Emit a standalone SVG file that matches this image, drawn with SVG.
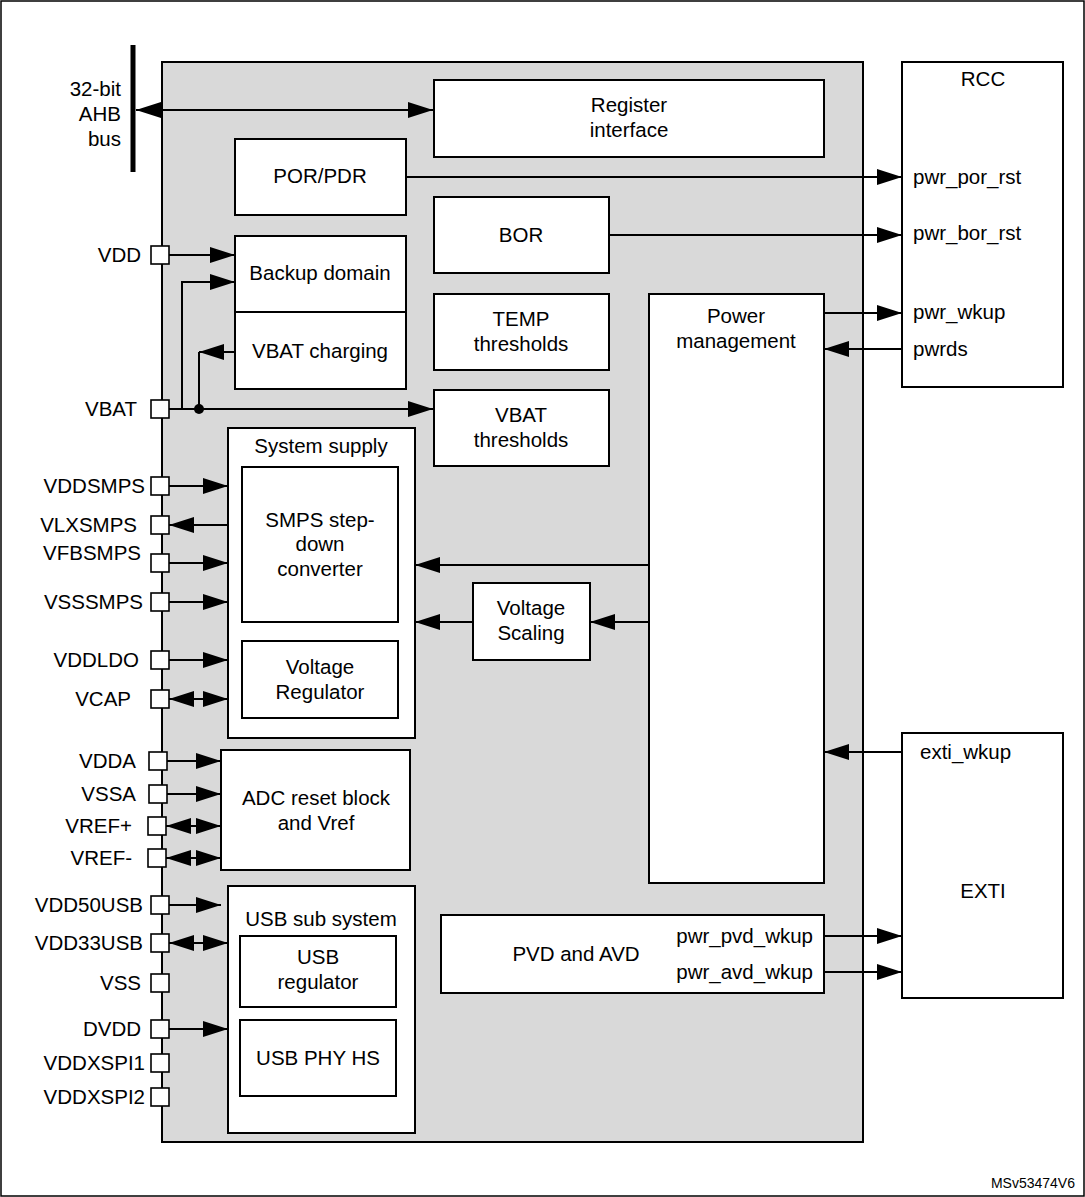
<svg xmlns="http://www.w3.org/2000/svg" width="1085" height="1197" viewBox="0 0 1085 1197">
<style>
.b{fill:#fff;stroke:#000;stroke-width:2}
.l{stroke:#000;stroke-width:2;fill:none}
.la{stroke:#000;stroke-width:2;fill:none;marker-end:url(#a)}
.lb{stroke:#000;stroke-width:2;fill:none;marker-end:url(#a);marker-start:url(#s)}
.p{fill:#fff;stroke:#000;stroke-width:1.6}
text{font-family:"Liberation Sans",Arial,sans-serif;font-size:20.5px;fill:#000}
.c{text-anchor:middle}
.r{text-anchor:end}
</style>
<defs>
<marker id="a" markerUnits="userSpaceOnUse" markerWidth="26" markerHeight="16" refX="25" refY="8" orient="auto"><path d="M0,0L25,8L0,16z"/></marker>
<marker id="s" markerUnits="userSpaceOnUse" markerWidth="26" markerHeight="16" refX="0" refY="8" orient="auto"><path d="M25,0L0,8L25,16z"/></marker>
</defs>
<rect x="1" y="1" width="1083" height="1195" fill="#fff" stroke="#000" stroke-width="1.5"/>
<rect x="162" y="62" width="701" height="1080" fill="#d9d9d9" stroke="#000" stroke-width="2"/>
<line x1="133" y1="45" x2="133" y2="172" stroke="#000" stroke-width="5"/>
<text class="r" x="121" y="96">32-bit</text><text class="r" x="121" y="121">AHB</text><text class="r" x="121" y="146">bus</text>
<g id="connectors">
<line class="lb" x1="136" y1="110" x2="433" y2="110"/>
<line class="la" x1="406" y1="177" x2="902" y2="177"/>
<line class="la" x1="609" y1="235" x2="902" y2="235"/>
<line class="la" x1="824" y1="313" x2="902" y2="313"/>
<line class="la" x1="902" y1="349" x2="824" y2="349"/>
<line class="la" x1="902" y1="752" x2="824" y2="752"/>
<line class="la" x1="824" y1="936" x2="902" y2="936"/>
<line class="la" x1="824" y1="972" x2="902" y2="972"/>
<line class="la" x1="169" y1="255" x2="235" y2="255"/>
<polyline class="la" points="182,409 182,282 235,282"/>
<polyline class="la" points="235,352 199,352"/>
<line class="l" x1="199" y1="352" x2="199" y2="409"/>
<circle cx="199" cy="409" r="5"/>
<line class="la" x1="169" y1="409" x2="433" y2="409"/>
<line class="la" x1="169" y1="486" x2="228" y2="486"/>
<line class="la" x1="228" y1="525" x2="169" y2="525"/>
<line class="la" x1="169" y1="563" x2="228" y2="563"/>
<line class="la" x1="169" y1="602" x2="228" y2="602"/>
<line class="la" x1="169" y1="660" x2="228" y2="660"/>
<line class="lb" x1="169" y1="699" x2="228" y2="699"/>
<line class="la" x1="167" y1="761" x2="221" y2="761"/>
<line class="la" x1="167" y1="794" x2="221" y2="794"/>
<line class="lb" x1="166" y1="826" x2="221" y2="826"/>
<line class="lb" x1="166" y1="858" x2="221" y2="858"/>
<line class="la" x1="169" y1="905" x2="221" y2="905"/>
<line class="lb" x1="169" y1="943" x2="228" y2="943"/>
<line class="la" x1="169" y1="1029" x2="228" y2="1029"/>
<line class="la" x1="649" y1="565" x2="415" y2="565"/>
<line class="la" x1="649" y1="622" x2="590" y2="622"/>
<line class="la" x1="473" y1="622" x2="415" y2="622"/>
</g>
<g id="reg"><rect class="b" x="434" y="80" width="390" height="77"/><text class="c" x="629" y="112">Register</text><text class="c" x="629" y="137">interface</text></g>
<g id="por"><rect class="b" x="235" y="139" width="171" height="76"/><text class="c" x="320" y="183">POR/PDR</text></g>
<g id="bor"><rect class="b" x="434" y="197" width="175" height="76"/><text class="c" x="521" y="242">BOR</text></g>
<g id="backup"><rect class="b" x="235" y="236" width="171" height="76"/><text class="c" x="320" y="280">Backup domain</text></g>
<g id="vbatchg"><rect class="b" x="235" y="312" width="171" height="77"/><text class="c" x="320" y="358">VBAT charging</text></g>
<g id="temp"><rect class="b" x="434" y="294" width="175" height="76"/><text class="c" x="521" y="326">TEMP</text><text class="c" x="521" y="351">thresholds</text></g>
<g id="vbatth"><rect class="b" x="434" y="390" width="175" height="76"/><text class="c" x="521" y="422">VBAT</text><text class="c" x="521" y="447">thresholds</text></g>
<g id="pm"><rect class="b" x="649" y="294" width="175" height="589"/><text class="c" x="736" y="323">Power</text><text class="c" x="736" y="348">management</text></g>
<g id="rcc"><rect class="b" x="902" y="62" width="161" height="325"/><text class="c" x="983" y="86">RCC</text>
<text x="913" y="184">pwr_por_rst</text><text x="913" y="240">pwr_bor_rst</text><text x="913" y="319">pwr_wkup</text><text x="913" y="356">pwrds</text></g>
<g id="sys"><rect class="b" x="228" y="428" width="187" height="310"/><text class="c" x="321" y="453">System supply</text>
<rect class="b" x="242" y="467" width="156" height="155"/><text class="c" x="320" y="527">SMPS step-</text><text class="c" x="320" y="551">down</text><text class="c" x="320" y="576">converter</text>
<rect class="b" x="242" y="641" width="156" height="77"/><text class="c" x="320" y="674">Voltage</text><text class="c" x="320" y="699">Regulator</text></g>
<g id="vs"><rect class="b" x="473" y="583" width="117" height="77"/><text class="c" x="531" y="615">Voltage</text><text class="c" x="531" y="640">Scaling</text></g>
<g id="adc"><rect class="b" x="221" y="750" width="189" height="120"/><text class="c" x="316" y="805">ADC reset block</text><text class="c" x="316" y="830">and Vref</text></g>
<g id="usb"><rect class="b" x="228" y="886" width="187" height="247"/><text class="c" x="321" y="926">USB sub system</text>
<rect class="b" x="240" y="936" width="156" height="71"/><text class="c" x="318" y="964">USB</text><text class="c" x="318" y="989">regulator</text>
<rect class="b" x="240" y="1020" width="156" height="76"/><text class="c" x="318" y="1065">USB PHY HS</text></g>
<g id="pvd"><rect class="b" x="441" y="915" width="383" height="78"/><text class="c" x="576" y="961">PVD and AVD</text><text class="r" x="813" y="943">pwr_pvd_wkup</text><text class="r" x="813" y="979">pwr_avd_wkup</text></g>
<g id="exti"><rect class="b" x="902" y="733" width="161" height="265"/><text x="920" y="759">exti_wkup</text><text class="c" x="983" y="898">EXTI</text></g>
<g id="pins">
<rect class="p" x="151" y="246" width="18" height="18"/><text class="r" x="141" y="262">VDD</text>
<rect class="p" x="151" y="400" width="18" height="18"/><text class="r" x="137" y="416">VBAT</text>
<rect class="p" x="151" y="477" width="18" height="18"/><text class="r" x="145" y="493">VDDSMPS</text>
<rect class="p" x="151" y="516" width="18" height="18"/><text class="r" x="137" y="532">VLXSMPS</text>
<rect class="p" x="151" y="554" width="18" height="18"/><text class="r" x="141" y="560">VFBSMPS</text>
<rect class="p" x="151" y="593" width="18" height="18"/><text class="r" x="143" y="609">VSSSMPS</text>
<rect class="p" x="151" y="651" width="18" height="18"/><text class="r" x="139" y="667">VDDLDO</text>
<rect class="p" x="151" y="690" width="18" height="18"/><text class="r" x="131" y="706">VCAP</text>
<rect class="p" x="149" y="752" width="18" height="18"/><text class="r" x="136" y="768">VDDA</text>
<rect class="p" x="149" y="785" width="18" height="18"/><text class="r" x="136" y="801">VSSA</text>
<rect class="p" x="148" y="817" width="18" height="18"/><text class="r" x="132" y="833">VREF+</text>
<rect class="p" x="148" y="849" width="18" height="18"/><text class="r" x="132" y="865">VREF-</text>
<rect class="p" x="151" y="896" width="18" height="18"/><text class="r" x="143" y="912">VDD50USB</text>
<rect class="p" x="151" y="934" width="18" height="18"/><text class="r" x="143" y="950">VDD33USB</text>
<rect class="p" x="151" y="974" width="18" height="18"/><text class="r" x="141" y="990">VSS</text>
<rect class="p" x="151" y="1020" width="18" height="18"/><text class="r" x="141" y="1036">DVDD</text>
<rect class="p" x="151" y="1054" width="18" height="18"/><text class="r" x="145" y="1070">VDDXSPI1</text>
<rect class="p" x="151" y="1088" width="18" height="18"/><text class="r" x="145" y="1104">VDDXSPI2</text>
</g>
<text class="r" x="1075" y="1188" style="font-size:14px">MSv53474V6</text>
</svg>
